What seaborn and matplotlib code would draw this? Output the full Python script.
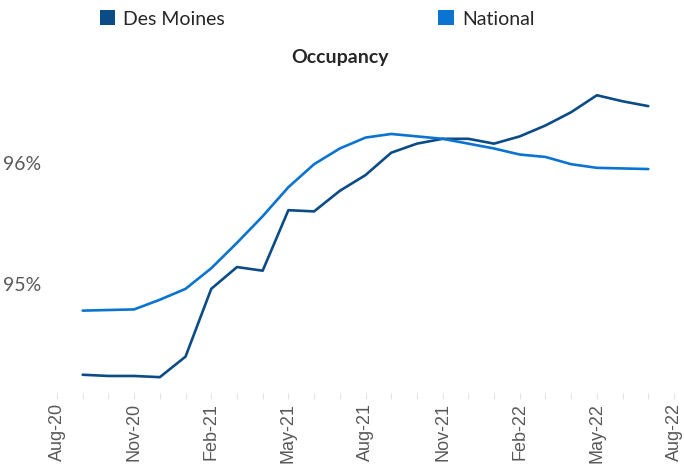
import numpy as np
import pandas as pd
import matplotlib
matplotlib.use('Agg')
import matplotlib.pyplot as plt
from matplotlib.patches import Patch
from matplotlib.ticker import FixedLocator, FuncFormatter
import seaborn as sns

# monthly categories, Aug-20 .. Aug-22
months = ['Aug-20', 'Sep-20', 'Oct-20', 'Nov-20', 'Dec-20', 'Jan-21', 'Feb-21',
          'Mar-21', 'Apr-21', 'May-21', 'Jun-21', 'Jul-21', 'Aug-21', 'Sep-21',
          'Oct-21', 'Nov-21', 'Dec-21', 'Jan-22', 'Feb-22', 'Mar-22', 'Apr-22',
          'May-22', 'Jun-22', 'Jul-22', 'Aug-22']

# occupancy (%), no values for the first and last category
des_moines = [np.nan, 94.25, 94.24, 94.24, 94.23, 94.40, 94.96, 95.14, 95.11,
              95.61, 95.60, 95.77, 95.90, 96.085, 96.16, 96.20, 96.20, 96.16,
              96.22, 96.31, 96.42, 96.56, 96.51, 96.47, np.nan]
national = [np.nan, 94.78, 94.785, 94.79, 94.87, 94.96, 95.13, 95.34, 95.56,
            95.80, 95.99, 96.12, 96.21, 96.24, 96.22, 96.20, 96.16, 96.12,
            96.07, 96.05, 95.99, 95.96, 95.955, 95.95, np.nan]

series_names = ['Des Moines', 'National']
colors = {'Des Moines': '#0B4C86', 'National': '#0A74D0'}

df = pd.DataFrame({
    'idx': list(range(len(months))) * 2,
    'value': des_moines + national,
    'series': [series_names[0]] * len(months) + [series_names[1]] * len(months),
}).dropna()

sns.set_style('white')
plt.rcParams['font.family'] = ['Lato', 'DejaVu Sans']

fig = plt.figure(figsize=(6.84, 4.69), dpi=100)
W, H = 684, 469
ax = fig.add_axes([52 / W, (H - 393) / H, (W - 52) / W, (393 - 70) / H])

sns.lineplot(data=df, x='idx', y='value', hue='series', palette=colors,
             hue_order=series_names, linewidth=1.9, legend=False, ax=ax)

# x scale: category 0 at ~57px, category 24 at ~674px
x0, x24 = 57, 674
step = (x24 - x0) / 24
ax.set_xlim(-(x0 - 52) / step, 24 + (W - x24) / step)
ax.set_ylim(95 - (393 - 284) / 121, 96 + (163 - 70) / 121)

ax.xaxis.set_major_locator(FixedLocator(list(range(0, 25, 3))))
ax.xaxis.set_minor_locator(FixedLocator(list(range(25))))
ax.set_xticklabels([months[i] for i in range(0, 25, 3)], rotation=90,
                   fontsize=13, color='#595959', family='Liberation Sans')
ax.set_yticks([95, 96])
ax.yaxis.set_major_formatter(FuncFormatter(lambda v, p: f'{v:.0f}%'))
ax.tick_params(axis='y', labelsize=14, colors='#595959', length=4,
               color='#D9D9D9', width=0.8, pad=4)
ax.tick_params(axis='x', which='both', length=4, color='#E3E3E3', width=0.8,
               bottom=True, pad=3)
ax.set_xlabel('')
ax.set_ylabel('')
for s in ax.spines.values():
    s.set_visible(False)

fig.text(340 / W, 1 - 57 / H, 'Occupancy', ha='center', va='center',
         fontsize=14, fontweight='bold', color='#262626')

handles = [Patch(facecolor=colors[n], edgecolor='none', label=n) for n in series_names]
fig.legend(handles=handles, loc='center left', bbox_to_anchor=(82 / W, 1 - 19 / H),
           ncol=2, frameon=False, fontsize=14, handlelength=0.8, handleheight=0.8,
           handletextpad=0.4, columnspacing=11.0, labelcolor='#262626')

fig.savefig('out.png', dpi=100, facecolor='white')
